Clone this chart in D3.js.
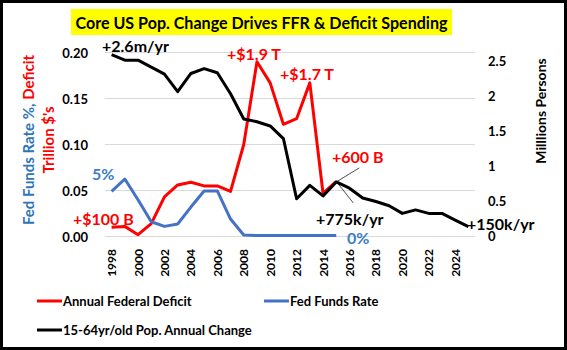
<!DOCTYPE html>
<html>
<head>
<meta charset="utf-8">
<script src="https://cdn.jsdelivr.net/npm/d3@7"></script>
<style>
  body { margin: 0; background: #fff; }
  text { font-family: Lato, "Open Sans", sans-serif; font-weight: bold; }
</style>
</head>
<body>
<svg id="chart" width="567" height="350"></svg>
<script>
// categories and series (deficit in $T/10, fed funds as fraction, pop change in millions)
var years = [1998, 1999, 2000, 2001, 2002, 2003, 2004, 2005, 2006, 2007,
             2008, 2009, 2010, 2011, 2012, 2013, 2014, 2015, 2016, 2017,
             2018, 2019, 2020, 2021, 2022, 2023, 2024, 2025];
var deficit = [0.010, 0.011, 0.002, 0.014, 0.043, 0.056, 0.059, 0.055, 0.055, 0.049,
               0.100, 0.190, 0.167, 0.122, 0.128, 0.167, 0.047, 0.060];
var fedFunds = [0.049, 0.0625, 0.040, 0.016, 0.011, 0.0136, 0.032, 0.0495, 0.0495, 0.019,
                0.0016, 0.001, 0.001, 0.001, 0.001, 0.001, 0.001, 0.001];
var popChange = [2.60, 2.52, 2.52, 2.42, 2.32, 2.07, 2.33, 2.40, 2.34, 2.04,
                 1.68, 1.64, 1.58, 1.40, 0.54, 0.73, 0.58, 0.78, 0.69, 0.55,
                 0.50, 0.44, 0.33, 0.38, 0.33, 0.33, 0.235, 0.14];
var leftTicks = [0, 0.05, 0.10, 0.15, 0.20];
var rightTicks = [0, 0.5, 1, 1.5, 2, 2.5];
var labelYears = [1998, 2000, 2002, 2004, 2006, 2008, 2010, 2012, 2014, 2016, 2018, 2020, 2022, 2024];
var seriesNames = ["Annual Federal Deficit", "Fed Funds Rate", "15-64yr/old Pop. Annual Change"];
var seriesColors = ["#ff0000", "#4472c4", "#000000"];
var notes = ["+2.6m/yr", "+$1.9 T", "+$1.7 T", "+600 B", "+775k/yr", "+$100 B", "5%", "0%", "+150k/yr"];

var svg = d3.select("#chart");
var width = +svg.attr("width"), height = +svg.attr("height");

var x = d3.scaleBand().domain(years).range([105, 475]);
var yL = d3.scaleLinear().domain([0, 0.2]).range([236.5, 52.5]);
var yR = d3.scaleLinear().domain([0, 2.63]).range([236.5, 52.5]);
function cx(yr) { return x(yr) + x.bandwidth() / 2; }

svg.append("rect").attr("width", width).attr("height", height).attr("fill", "#fff");

// gridlines
svg.append("g").selectAll("line")
  .data(leftTicks).enter().append("line")
    .attr("x1", 105).attr("x2", 475)
    .attr("y1", function(d) { return yL(d); })
    .attr("y2", function(d) { return yL(d); })
    .attr("stroke", "#d9d9d9").attr("stroke-width", 1);

// left tick labels
svg.append("g").selectAll("text")
  .data(leftTicks).enter().append("text")
    .attr("x", 88).attr("y", function(d) { return yL(d); })
    .attr("text-anchor", "end").attr("dominant-baseline", "central")
    .attr("font-size", 13)
    .text(d3.format(".2f"));

// right tick labels
svg.append("g").selectAll("text")
  .data(rightTicks).enter().append("text")
    .attr("x", 488).attr("y", function(d) { return yR(d) - 1; })
    .attr("text-anchor", "start").attr("dominant-baseline", "central")
    .attr("font-size", 13)
    .text(function(d) { return String(d); });

// year labels
svg.append("g").selectAll("text")
  .data(labelYears).enter().append("text")
    .attr("transform", function(d) { return "translate(" + cx(d) + ",249) rotate(-90)"; })
    .attr("text-anchor", "end").attr("dominant-baseline", "central")
    .attr("font-size", 12)
    .text(function(d) { return d; });

// series lines
function drawLine(values, yScale, color) {
  var line = d3.line()
    .x(function(d, i) { return cx(years[i]); })
    .y(function(d) { return yScale(d); });
  svg.append("path")
    .datum(values)
    .attr("d", line)
    .attr("fill", "none")
    .attr("stroke", color)
    .attr("stroke-width", 3)
    .attr("stroke-linejoin", "round");
}
drawLine(deficit, yL, seriesColors[0]);
drawLine(fedFunds, yL, seriesColors[1]);
drawLine(popChange, yR, seriesColors[2]);

// callout leaders at 2015
var px = cx(2015), py = yR(popChange[17]);
svg.append("line").attr("x1", px).attr("y1", py).attr("x2", px + 23).attr("y2", py - 14)
  .attr("stroke", "#000").attr("stroke-width", 0.7);
svg.append("line").attr("x1", px + 2).attr("y1", py + 2).attr("x2", px + 17).attr("y2", py + 21)
  .attr("stroke", "#000").attr("stroke-width", 0.7);

// annotations
var notePos = [[102, 45], [227, 53], [280, 73], [332, 156], [316, 218], [73, 218], [92, 173], [347, 237], [467, 223]];
var noteColor = ["#000", "#ff0000", "#ff0000", "#ff0000", "#000", "#ff0000", "#3a7ec6", "#3a7ec6", "#000"];
svg.append("g").selectAll("text")
  .data(notes).enter().append("text")
    .attr("x", function(d, i) { return notePos[i][0]; })
    .attr("y", function(d, i) { return notePos[i][1]; })
    .attr("dominant-baseline", "central")
    .attr("font-size", 16)
    .attr("font-weight", function(d, i) { return i === 8 ? "normal" : "bold"; })
    .attr("fill", function(d, i) { return noteColor[i]; })
    .text(function(d) { return d; });

// title
svg.append("rect").attr("x", 71).attr("y", 9).attr("width", 381).attr("height", 26).attr("fill", "#ffff00");
svg.append("text").attr("x", 261.5).attr("y", 22.5)
  .attr("text-anchor", "middle").attr("dominant-baseline", "central")
  .attr("font-size", 17)
  .attr("textLength", 372).attr("lengthAdjust", "spacingAndGlyphs")
  .text("Core US Pop. Change Drives FFR & Deficit Spending");

// left axis title
var lt = svg.append("text")
  .attr("transform", "translate(28,140) rotate(-90)")
  .attr("text-anchor", "middle").attr("dominant-baseline", "central")
  .attr("font-size", 15);
lt.append("tspan").attr("fill", "#2e75b6").text("Fed Funds Rate %, ");
lt.append("tspan").attr("fill", "#ff0000").text("Deficit");
svg.append("text")
  .attr("transform", "translate(48,140) rotate(-90)")
  .attr("text-anchor", "middle").attr("dominant-baseline", "central")
  .attr("font-size", 15).attr("fill", "#ff0000")
  .text("Trillion $'s");

// right axis title
svg.append("text")
  .attr("transform", "translate(540,111) rotate(-90)")
  .attr("text-anchor", "middle").attr("dominant-baseline", "central")
  .attr("font-size", 14)
  .text("Milllions Persons");

// legend
var legendPos = [[37, 301], [264, 301], [37, 330]];
var lg = svg.append("g").selectAll("g")
  .data(seriesNames).enter().append("g")
    .attr("transform", function(d, i) { return "translate(" + legendPos[i][0] + "," + legendPos[i][1] + ")"; });
lg.append("line").attr("x1", 0).attr("x2", 25).attr("y1", 0).attr("y2", 0)
  .attr("stroke", function(d, i) { return seriesColors[i]; }).attr("stroke-width", 3);
lg.append("text").attr("x", 26).attr("y", 0)
  .attr("dominant-baseline", "central").attr("font-size", 13)
  .text(function(d) { return d; });

// outer border
svg.append("rect").attr("x", 1.5).attr("y", 1.5).attr("width", width - 3).attr("height", height - 3)
  .attr("fill", "none").attr("stroke", "#000").attr("stroke-width", 3);
</script>
</body>
</html>
